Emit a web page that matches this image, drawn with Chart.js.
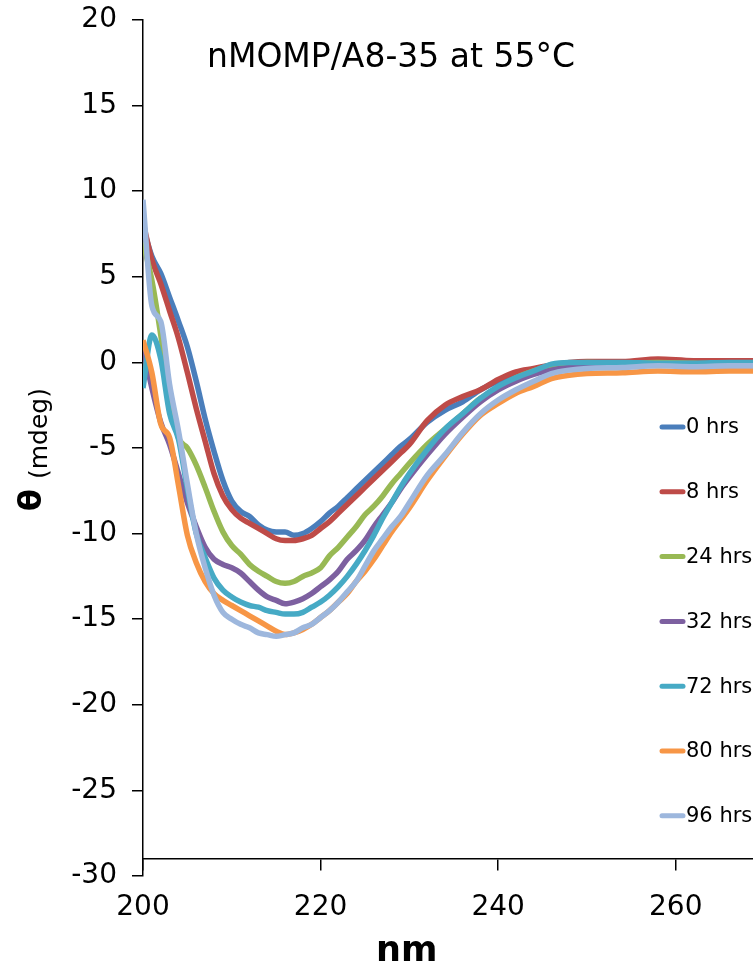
<!DOCTYPE html>
<html>
<head>
<meta charset="utf-8">
<script src="https://cdn.jsdelivr.net/npm/chart.js@4.4.1/dist/chart.umd.min.js"></script>
<style>
  html, body { margin: 0; padding: 0; background: #fff; }
  #wrap { width: 753px; height: 969px; }
</style>
</head>
<body>
<div id="wrap"><canvas id="cd-chart" width="753" height="969"></canvas></div>
<script>
// wavelength grid (nm)
const wavelengths = [200, 201, 202, 203, 204, 205, 206, 207, 208, 209, 210, 211, 212, 213, 214, 215,
  216, 217, 218, 219, 220, 221, 222, 223, 224, 225, 226, 227, 228, 229, 230,
  232, 234, 236, 238, 240, 242, 244, 246, 248, 250, 254, 258, 262, 266, 270];

// ellipticity (mdeg)
const hrs0 = [7.9, 6.2, 5.2, 3.8, 2.4, 0.9, -1.1, -3.3, -5.2, -6.9, -8.1, -8.7, -9.0, -9.5, -9.8, -9.9,
  -9.9, -10.1, -10.0, -9.7, -9.3, -8.8, -8.4, -7.9, -7.4, -6.9, -6.4, -5.9, -5.4, -4.9, -4.5,
  -3.5, -2.8, -2.3, -1.6, -1.1, -0.7, -0.4, -0.2, -0.1, 0, 0, 0.05, 0, 0, 0];
const hrs8 = [8.2, 6.0, 4.6, 3.0, 1.4, -0.6, -2.7, -4.6, -6.5, -7.8, -8.6, -9.1, -9.4, -9.7, -10.0, -10.3,
  -10.4, -10.4, -10.3, -10.1, -9.7, -9.3, -8.8, -8.3, -7.8, -7.3, -6.8, -6.3, -5.8, -5.3, -4.8,
  -3.4, -2.5, -2.0, -1.6, -1.0, -0.55, -0.35, -0.15, 0, 0.05, 0.05, 0.2, 0.1, 0.1, 0.1];
const hrs24 = [7.0, 4.8, 1.6, -2.0, -4.4, -5.0, -6.0, -7.3, -8.7, -9.9, -10.7, -11.2, -11.8, -12.2, -12.5, -12.8,
  -12.9, -12.8, -12.5, -12.3, -12.0, -11.3, -10.8, -10.2, -9.6, -8.9, -8.4, -7.8, -7.1, -6.5, -5.9,
  -4.8, -3.9, -3.0, -2.1, -1.5, -0.9, -0.5, -0.2, -0.1, 0, -0.05, 0, -0.05, -0.1, -0.1];
const hrs32 = [0.9, -1.5, -3.5, -4.8, -6.5, -8.2, -9.6, -10.8, -11.5, -11.8, -12.0, -12.3, -12.8, -13.3, -13.7, -13.9,
  -14.1, -14.0, -13.8, -13.5, -13.1, -12.7, -12.2, -11.5, -11.0, -10.4, -9.6, -8.9, -8.2, -7.4, -6.7,
  -5.4, -4.2, -3.2, -2.3, -1.6, -1.1, -0.7, -0.45, -0.3, -0.2, -0.15, -0.1, -0.15, -0.2, -0.2];
const hrs72 = [-1.5, 1.6, 0.2, -3.0, -4.5, -7.4, -10.0, -11.4, -12.6, -13.3, -13.7, -14.0, -14.2, -14.3, -14.5, -14.6,
  -14.7, -14.7, -14.6, -14.3, -14.0, -13.6, -13.1, -12.5, -11.8, -11.0, -10.1, -9.1, -8.2, -7.3, -6.5,
  -5.1, -3.9, -3.0, -2.1, -1.4, -0.9, -0.5, -0.1, 0, 0, 0, -0.05, -0.05, 0, 0];
const hrs80 = [1.3, -0.6, -3.6, -4.4, -7.2, -10.1, -11.7, -12.8, -13.5, -13.9, -14.2, -14.5, -14.8, -15.1, -15.4, -15.7,
  -15.9, -15.8, -15.6, -15.3, -14.9, -14.5, -14.0, -13.5, -12.8, -12.2, -11.5, -10.7, -9.9, -9.2, -8.5,
  -6.9, -5.5, -4.2, -3.1, -2.4, -1.8, -1.4, -0.95, -0.75, -0.65, -0.6, -0.5, -0.55, -0.5, -0.5];
const hrs96 = [9.5, 3.3, 2.4, -1.3, -4.0, -7.1, -10.0, -12.0, -13.6, -14.6, -15.0, -15.3, -15.5, -15.8, -15.9, -16.0,
  -15.9, -15.8, -15.5, -15.3, -14.9, -14.5, -14.0, -13.4, -12.8, -11.9, -11.0, -10.3, -9.6, -9.0, -8.2,
  -6.6, -5.4, -4.1, -3.0, -2.2, -1.6, -1.1, -0.65, -0.45, -0.35, -0.3, -0.2, -0.25, -0.2, -0.2];

const seriesLabels = ["0 hrs", "8 hrs", "24 hrs", "32 hrs", "72 hrs", "80 hrs", "96 hrs"];
const seriesValues = [hrs0, hrs8, hrs24, hrs32, hrs72, hrs80, hrs96];
const seriesColors = ["#4A7EBB", "#BE4B48", "#98B954", "#7D60A0", "#46AAC5", "#F79646", "#9DB7DD"];

const xTicks = [200, 220, 240, 260];
const yTicks = [20, 15, 10, 5, 0, -5, -10, -15, -20, -25, -30];

const FONT = "'DejaVu Sans', Verdana, sans-serif";

const datasets = seriesValues.map((vals, i) => ({
  label: seriesLabels[i],
  data: vals.map((v, j) => ({ x: wavelengths[j], y: v })),
  borderColor: seriesColors[i],
  backgroundColor: seriesColors[i],
  borderWidth: 5.5,
  pointRadius: 0,
  cubicInterpolationMode: "monotone",
  order: seriesValues.length - i   // later series on top, as in the original
}));

// title, axis titles and the legend are drawn straight on the canvas
const annotations = {
  id: "annotations",
  afterDraw(chart) {
    const ctx = chart.ctx;
    ctx.save();
    ctx.fillStyle = "#000";
    ctx.textBaseline = "alphabetic";
    ctx.textAlign = "left";

    ctx.font = "33px " + FONT;
    ctx.fillText("nMOMP/A8-35 at 55°C", 207, 67);

    ctx.font = "bold 35px " + FONT;
    ctx.fillText("nm", 376, 961);

    // y title: big theta + small (mdeg)
    ctx.save();
    ctx.translate(41, 511);
    ctx.rotate(-Math.PI / 2);
    ctx.font = "bold 32px " + FONT;
    ctx.fillText("θ", 0, 0);
    ctx.font = "25px " + FONT;
    ctx.fillText("(mdeg)", 32, 6);
    ctx.restore();

    // legend
    chart.data.datasets.forEach((ds, i) => {
      const y = 427 + i * 64.8;
      ctx.strokeStyle = ds.borderColor;
      ctx.lineWidth = 5;
      ctx.lineCap = "round";
      ctx.beginPath();
      ctx.moveTo(662, y);
      ctx.lineTo(683, y);
      ctx.stroke();
      ctx.font = "21px " + FONT;
      ctx.textBaseline = "middle";
      ctx.fillText(ds.label, 686, y + 1);
    });
    ctx.restore();
  }
};

new Chart(document.getElementById("cd-chart"), {
  type: "line",
  data: { datasets },
  options: {
    responsive: false,
    animation: false,
    devicePixelRatio: 1,
    layout: { padding: { top: 20, right: 0, bottom: 93, left: 0 } },
    plugins: {
      legend: { display: false },
      tooltip: { enabled: false }
    },
    scales: {
      x: {
        type: "linear",
        position: { y: -29 },
        min: 200,
        max: 268.7,
        afterBuildTicks: (s) => { s.ticks = xTicks.map(v => ({ value: v })); },
        grid: { drawOnChartArea: false, drawTicks: true, tickLength: 11, color: "#000", lineWidth: 1.5 },
        border: { display: true, color: "#000", width: 1.5 },
        ticks: { color: "#000", font: { family: FONT, size: 28 }, padding: 21, maxRotation: 0 }
      },
      y: {
        type: "linear",
        min: -30,
        max: 20,
        afterBuildTicks: (s) => { s.ticks = yTicks.map(v => ({ value: v })); },
        afterFit: (s) => { s.width = 143; },
        grid: { drawOnChartArea: false, drawTicks: true, tickLength: 11, color: "#000", lineWidth: 1.5 },
        border: { display: true, color: "#000", width: 1.5 },
        ticks: { color: "#000", font: { family: FONT, size: 28, lineHeight: 0.35 }, padding: 15 }
      }
    }
  },
  plugins: [annotations]
});
</script>
</body>
</html>
